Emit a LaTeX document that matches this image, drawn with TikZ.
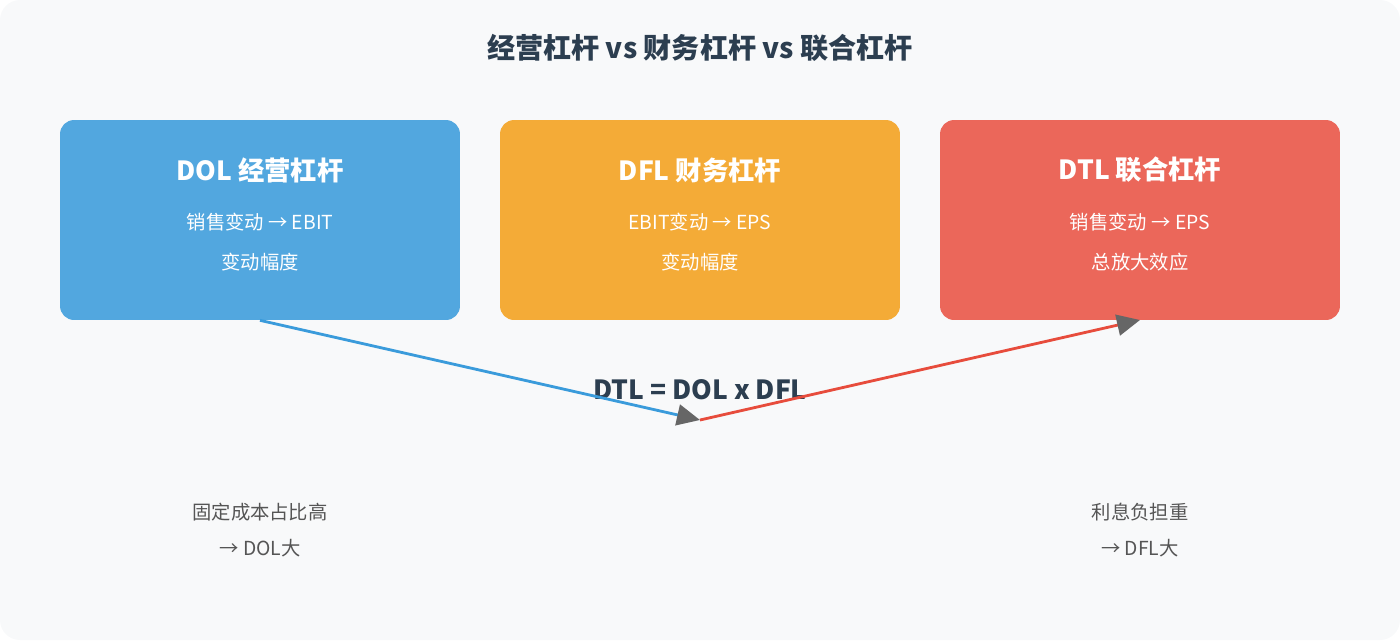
\documentclass[tikz,border=0pt]{standalone}
\usepackage{fontspec}
\setmainfont{Noto Sans CJK SC}
\usetikzlibrary{arrows.meta}
\definecolor{bgc}{HTML}{F8F9FA}
\definecolor{ink}{HTML}{2C3E50}
\definecolor{dolc}{HTML}{52A7DF}
\definecolor{dflc}{HTML}{F4AB37}
\definecolor{dtlc}{HTML}{EB675A}
\definecolor{bluel}{HTML}{3A9BDB}
\definecolor{redl}{HTML}{E74C3C}
\definecolor{tipc}{HTML}{666666}
\definecolor{note}{HTML}{555555}
\begin{document}
\begin{tikzpicture}[x=0.02cm,y=-0.02cm,
    every node/.style={inner sep=0pt},
    box/.style={minimum width=8cm,minimum height=4cm,rounded corners=0.28cm},
    head/.style={font=\bfseries\fontsize{15}{18}\selectfont,text=white},
    sub/.style={font=\fontsize{11}{13}\selectfont,text=white},
    lnote/.style={font=\fontsize{11}{13}\selectfont,text=note},
    lev/.style={line width=1.6pt,-{Triangle[color=tipc,length=0.46cm,width=0.42cm]}}]
    % background
    \fill[bgc,rounded corners=0.4cm] (0,0) rectangle (1400,640);
    \node[font=\bfseries\fontsize{16}{19}\selectfont,text=ink] (title) at (700,48) {经营杠杆 vs 财务杠杆 vs 联合杠杆};
    % boxes
    \node[box,fill=dolc] (dol) at (260,220) {};
    \node[box,fill=dflc] (dfl) at (700,220) {};
    \node[box,fill=dtlc] (dtl) at (1140,220) {};
    \node[head] (dolh) at (260,170) {DOL 经营杠杆};
    \node[sub] (dol1) at (260,222) {销售变动 → EBIT};
    \node[sub] (dol2) at (260,262) {变动幅度};
    \node[head] (dflh) at (700,170) {DFL 财务杠杆};
    \node[sub] (dfl1) at (700,222) {EBIT变动 → EPS};
    \node[sub] (dfl2) at (700,262) {变动幅度};
    \node[head] (dtlh) at (1140,170) {DTL 联合杠杆};
    \node[sub] (dtl1) at (1140,222) {销售变动 → EPS};
    \node[sub] (dtl2) at (1140,262) {总放大效应};
    % formula and arrows
    \node[font=\bfseries\fontsize{15}{18}\selectfont,text=ink] (eq) at (700,390) {DTL = DOL x DFL};
    \coordinate (mid) at (700,420);
    \coordinate (top) at (1140,320);
    \draw[lev,bluel] (dol.south) -- (mid);
    \draw[lev,redl] (mid) -- (top);
    % notes
    \node[lnote] (n1) at (260,512) {固定成本占比高};
    \node[lnote] (n2) at (260,548) {→ DOL大};
    \node[lnote] (n3) at (1140,512) {利息负担重};
    \node[lnote] (n4) at (1140,548) {→ DFL大};
\end{tikzpicture}
\end{document}
